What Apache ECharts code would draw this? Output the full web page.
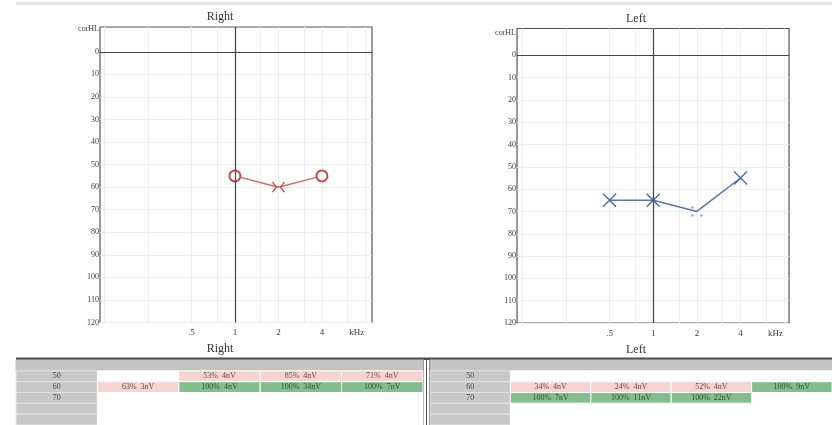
<!DOCTYPE html>
<html>
<head>
<meta charset="utf-8">
<script src="https://cdn.jsdelivr.net/npm/echarts@6/dist/echarts.min.js"></script>
<style>
html,body{margin:0;padding:0;background:#fff;}
#c{width:832px;height:425px;}
</style>
</head>
<body>
<div id="c"></div>
<script>
// ---- data ----
const freqTickLabels = ['.5', '1', '2', '4'];
const freqTickKHz = [0.5, 1, 2, 4];
const hlTicks = [0, 10, 20, 30, 40, 50, 60, 70, 80, 90, 100, 110, 120];

const rightFreqKHz = [1, 2, 4];
const rightHL = [55, 60, 55];

const leftFreqKHz = [0.5, 1, 2, 4];
const leftHL = [65, 65, 70, 55];

const levels = ['50', '60', '70'];
const rightPct = [[null, 53, 85, 71], [63, 100, 100, 100], [null, null, null, null]];
const rightNoise = [[null, 4, 4, 4], [3, 4, 34, 7], [null, null, null, null]];
const leftPct = [[null, null, null, null], [34, 24, 52, 100], [100, 100, 100, null]];
const leftNoise = [[null, null, null, null], [4, 4, 4, 9], [7, 11, 22, null]];

// ---- helpers ----
const oct = f => Math.log2(f);
const serif = '"Liberation Serif", "DejaVu Serif", serif';
const gridFreqs = [0.125, 0.25, 0.5, 0.75, 1, 1.5, 2, 3, 4, 6, 8].map(oct);

function xAxisFor(gi, min, max) {
  return {
    type: 'value', gridIndex: gi, min: min, max: max,
    axisLine: {show: false},
    axisTick: {show: false, customValues: gridFreqs},
    splitLine: {show: true, lineStyle: {color: '#efefef', width: 1}},
    axisLabel: {
      customValues: freqTickKHz.map(oct).concat([2.8]),
      formatter: v => {
        const i = freqTickKHz.map(oct).findIndex(o => Math.abs(o - v) < 1e-6);
        return i >= 0 ? freqTickLabels[i] : 'kHz';
      },
      fontFamily: serif, fontSize: 9, color: '#3a3a3a', margin: 6
    }
  };
}
function yAxisFor(gi, min) {
  return {
    type: 'value', gridIndex: gi, inverse: true, min: min, max: 120,
    axisLine: {show: false},
    axisTick: {show: false, customValues: hlTicks},
    splitLine: {show: true, lineStyle: {color: '#efefef', width: 1}},
    axisLabel: {
      customValues: [-10].concat(hlTicks),
      formatter: v => v === -10 ? 'corHL' : String(v),
      fontFamily: serif, fontSize: 8, color: '#3a3a3a', margin: 1
    }
  };
}
const crossLines = {
  silent: true, symbol: 'none', label: {show: false},
  lineStyle: {color: '#444', width: 1.2, type: 'solid'},
  data: [{xAxis: 0}, {yAxis: 0}]
};

const red = '#c44a4a', blue = '#4c6fa8';
const xPath = 'path://M0,0 L10,10 M10,0 L0,10';
const bracketPath = 'path://M0,0 L4,5 L0,10 M12,0 L8,5 L12,10';
const dotsPath = 'path://M0,0 h2 v2 h-2 Z M0,8 h2 v2 h-2 Z M9,8 h2 v2 h-2 Z';

const rightData = rightFreqKHz.map((f, i) => {
  const item = {value: [oct(f), rightHL[i]]};
  if (f === 2) {
    item.symbol = bracketPath; item.symbolSize = [12, 10];
    item.itemStyle = {color: 'transparent', borderColor: red, borderWidth: 1.2};
  }
  return item;
});
const leftData = leftFreqKHz.map((f, i) => {
  const item = {value: [oct(f), leftHL[i]]};
  if (f === 2) {
    item.symbol = dotsPath; item.symbolSize = [11, 10];
    item.itemStyle = {color: '#7d95c4', borderWidth: 0};
  }
  return item;
});

// ---- table data ----
function tableData(pct, noise) {
  const out = [];
  for (let c = 0; c < 5; c++) out.push([c, 0, '', 'hdr']);
  const rowsLab = levels.concat(['', '']);
  rowsLab.forEach((lab, r) => {
    out.push([0, r + 1, lab, 'lab']);
    for (let c = 0; c < 4; c++) {
      let p = r < pct.length ? pct[r][c] : null;
      let n = r < noise.length ? noise[r][c] : null;
      if (p == null) out.push([c + 1, r + 1, '', 'none']);
      else out.push([c + 1, r + 1, p + '%  ' + n + 'nV', p === 100 ? 'pass' : 'fail']);
    }
  });
  return out;
}
const fills = {hdr: '#c4c4c4', lab: '#c8c8c8', pass: '#84be8c', fail: '#f6d4d0', none: '#ffffff'};
const textFill = {lab: '#4a4a4a', pass: '#2a5230', fail: '#6e4441', none: '#555', hdr: '#555'};
function renderCell(params, api) {
  const c = api.value(0), r = api.value(1);
  const txt = api.value(2), st = api.value(3);
  const p = api.coord([c, r]);
  const s = api.size([1, 1]);
  const x = p[0] - s[0] / 2, y = p[1] - s[1] / 2;
  const children = [{
    type: 'rect',
    shape: {x: x, y: y, width: s[0], height: s[1]},
    style: {fill: fills[st], stroke: st === 'hdr' ? fills.hdr : (st === 'lab' ? '#e4e4e4' : '#ffffff'), lineWidth: 1}
  }];
  if (txt) children.push({
    type: 'text',
    style: {text: txt, x: p[0], y: p[1], align: 'center', verticalAlign: 'middle',
      font: '8px ' + serif, fill: textFill[st]}
  });
  return {type: 'group', children: children};
}
const rowCats = ['h', 'a', 'b', 'c', 'd', 'e'];
const colCats = ['l', '1', '2', '3', '4'];

const chart = echarts.init(document.getElementById('c'), null, {renderer: 'canvas'});
const tStyle = {fontFamily: serif, fontSize: 12, fontWeight: 'normal', color: '#333'};
chart.setOption({
  backgroundColor: '#ffffff',
  animation: false,
  title: [
    {text: 'Right', left: 220, top: 11, textAlign: 'center', padding: 0, textStyle: tStyle},
    {text: 'Right', left: 220, top: 343, textAlign: 'center', padding: 0, textStyle: tStyle},
    {text: 'Left', left: 636, top: 13, textAlign: 'center', padding: 0, textStyle: tStyle},
    {text: 'Left', left: 636, top: 344, textAlign: 'center', padding: 0, textStyle: tStyle}
  ],
  grid: [
    {left: 100, right: 460, top: 27, bottom: 102.5, show: true, borderColor: '#555', borderWidth: 1.2, backgroundColor: 'transparent'},
    {left: 517, right: 43, top: 28.5, bottom: 102, show: true, borderColor: '#555', borderWidth: 1.2, backgroundColor: 'transparent'},
    {left: 16, right: 409, top: 360, height: 66, show: false},
    {left: 430, right: -8, top: 360, height: 66, show: false}
  ],
  xAxis: [
    xAxisFor(0, -3.1, 3.15),
    xAxisFor(1, -3.12, 3.11),
    {type: 'category', gridIndex: 2, data: colCats, show: false},
    {type: 'category', gridIndex: 3, data: colCats, show: false}
  ],
  yAxis: [
    yAxisFor(0, -11),
    yAxisFor(1, -12),
    {type: 'category', gridIndex: 2, data: rowCats, inverse: true, show: false},
    {type: 'category', gridIndex: 3, data: rowCats, inverse: true, show: false}
  ],
  series: [
    {
      type: 'line', xAxisIndex: 0, yAxisIndex: 0, data: rightData,
      symbol: 'emptyCircle', symbolSize: 11,
      itemStyle: {color: red, borderWidth: 1.3},
      lineStyle: {color: '#cf6b6b', width: 1.5},
      markLine: crossLines, z: 3
    },
    {
      type: 'line', xAxisIndex: 1, yAxisIndex: 1, data: leftData,
      symbol: xPath, symbolSize: 13,
      itemStyle: {color: 'transparent', borderColor: blue, borderWidth: 1.5},
      lineStyle: {color: '#5877b0', width: 1.5},
      markLine: crossLines, z: 3
    },
    {type: 'custom', xAxisIndex: 2, yAxisIndex: 2, renderItem: renderCell, data: tableData(rightPct, rightNoise), silent: true},
    {type: 'custom', xAxisIndex: 3, yAxisIndex: 3, renderItem: renderCell, data: tableData(leftPct, leftNoise), silent: true}
  ],
  graphic: [
    {type: 'rect', shape: {x: 16, y: 2, width: 816, height: 3}, style: {fill: '#e6e6e6'}, silent: true},
    {type: 'rect', shape: {x: 16, y: 357.5, width: 816, height: 2.5}, style: {fill: '#4d4d4d'}, silent: true},
    {type: 'line', shape: {x1: 423.5, y1: 358, x2: 423.5, y2: 425}, style: {stroke: '#777', lineWidth: 1}, silent: true},
    {type: 'line', shape: {x1: 426.5, y1: 358, x2: 426.5, y2: 425}, style: {stroke: '#555', lineWidth: 1}, silent: true},
    {type: 'line', shape: {x1: 429.5, y1: 358, x2: 429.5, y2: 425}, style: {stroke: '#555', lineWidth: 1}, silent: true}
  ]
});
</script>
</body>
</html>
